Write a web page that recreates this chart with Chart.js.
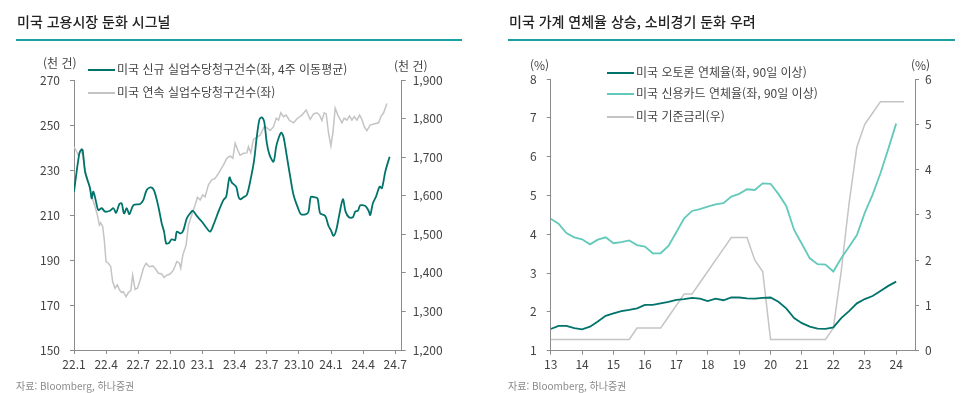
<!DOCTYPE html>
<html lang="ko">
<head>
<meta charset="utf-8">
<script src="https://cdn.jsdelivr.net/npm/chart.js@4.4.1/dist/chart.umd.min.js"></script>
<style>
  body { margin: 0; background: #fff; font-family: "Noto Sans CJK KR", "Noto Sans", sans-serif; }
  #wrap { position: relative; width: 964px; height: 393px; overflow: hidden; }
  canvas { position: absolute; top: 0; }
  .title { position: absolute; top: 12px; font-size: 14px; line-height: 18px; font-weight: 500; color: #222; white-space: nowrap; }
  .rule { position: absolute; top: 39px; height: 1.5px; background: #1aa0a0; }
  .txt { position: absolute; white-space: nowrap; font-size: 12px; line-height: 14px; color: #444; }
  .src { position: absolute; white-space: nowrap; font-size: 10px; line-height: 12px; color: #8a8a8a; top: 380px; }
  .sw { display: inline-block; width: 27px; height: 2px; vertical-align: middle; margin-right: 2px; position: relative; top: -1px; }
</style>
</head>
<body>
<div id="wrap">
  <canvas id="jobs" width="482" height="393" style="left:0"></canvas>
  <canvas id="debt" width="482" height="393" style="left:482px"></canvas>

  <div class="title" style="left:17px">미국 고용시장 둔화 시그널</div>
  <div class="rule" style="left:16px; width:446px"></div>
  <div class="title" style="left:509px">미국 가계 연체율 상승, 소비경기 둔화 우려</div>
  <div class="rule" style="left:508px; width:447px"></div>

  <div class="txt" style="left:43px; top:56px">(천 건)</div>
  <div class="txt" style="left:394px; top:59px">(천 건)</div>
  <div class="txt" style="left:88px; top:62px"><span class="sw" style="background:#00736a"></span>미국 신규 실업수당청구건수(좌, 4주 이동평균)</div>
  <div class="txt" style="left:88px; top:85px"><span class="sw" style="background:#c4c4c4"></span>미국 연속 실업수당청구건수(좌)</div>

  <div class="txt" style="left:530px; top:58px">(%)</div>
  <div class="txt" style="left:911px; top:58px">(%)</div>
  <div class="txt" style="left:607px; top:65px"><span class="sw" style="background:#00736a"></span>미국 오토론 연체율(좌, 90일 이상)</div>
  <div class="txt" style="left:607px; top:86px"><span class="sw" style="background:#62c9bb"></span>미국 신용카드 연체율(좌, 90일 이상)</div>
  <div class="txt" style="left:607px; top:109px"><span class="sw" style="background:#c4c4c4"></span>미국 기준금리(우)</div>

  <div class="src" style="left:16px">자료: Bloomberg, 하나증권</div>
  <div class="src" style="left:508px">자료: Bloomberg, 하나증권</div>
</div>
<script>
// 왼쪽: 실업수당청구건수 (x = 2022년 1월 기준 경과 개월)
const newX = [0,0.5,0.72,0.81,1.03,1.25,1.5,1.65,1.81,2.02,2.27,2.59,2.9,3.36,3.68,3.93,4.24,4.45,4.67,4.92,5.17,5.55,6.17,6.48,6.79,7.17,7.48,7.88,8.19,8.41,8.6,8.82,9.13,9.44,9.6,9.97,10.22,10.53,10.84,11.09,11.46,11.93,12.4,12.71,13.02,13.49,13.96,14.21,14.52,14.74,15.14,15.36,15.51,15.83,16.14,16.51,16.82,17.07,17.32,17.54,17.76,18.01,18.26,18.63,18.88,19.1,19.35,19.56,19.88,20.19,20.5,20.87,21.18,21.68,21.9,22.12,22.43,22.74,22.99,23.46,23.77,23.99,24.24,24.49,24.74,25.11,25.36,25.67,26.04,26.26,26.51,26.73,27.2,27.51,27.66,27.91,28.22,28.54,28.75,29.07,29.47];
const newClaims = [220.4,237.4,239.2,238.8,229.3,225.6,221.9,217.4,220.4,216.7,212.2,213,211.5,211.9,213,211,214.9,215.2,210.7,213,210.4,214.4,214.9,216.7,221.1,222.3,220.8,213.7,206.3,202.6,197.4,197.4,199.2,198.8,202.6,201.8,203.3,208.5,210.7,211.9,209.6,207.1,204.1,202.6,205.6,211.5,216.7,218.1,226.7,224.4,222.6,218.1,217,217.9,218.9,226.3,234.4,244.8,252.5,253.4,251.5,241.8,236.7,233.7,240.4,244.1,246.6,244.8,235.9,227,218.9,213.7,210.4,210.4,211.5,218.1,217.9,217.4,210.7,209.6,205.1,203.3,200.7,203.3,209.3,217,211.5,209,209,211.5,211.9,214.3,214,211.9,210,215.2,218.4,222.6,221.9,229.3,235.9];
const contX = [0,0.25,0.4,0.62,0.81,1.03,1.34,1.65,1.96,2.18,2.37,2.49,2.68,2.83,2.99,3.21,3.43,3.61,3.83,4.05,4.24,4.45,4.61,4.86,5.08,5.3,5.48,5.7,5.92,6.17,6.48,6.73,7.04,7.35,7.57,7.88,8.19,8.41,8.66,8.97,9.28,9.6,9.84,9.97,10.16,10.47,10.69,11,11.31,11.53,11.78,12.02,12.24,12.55,12.87,13.18,13.58,13.96,14.27,14.58,14.83,15.05,15.3,15.51,15.83,16.14,16.29,16.51,16.76,17.07,17.38,17.76,18.07,18.32,18.63,18.88,19.1,19.31,19.56,19.81,20.12,20.5,20.87,21.28,21.68,22.06,22.37,22.68,22.93,23.15,23.36,23.55,23.77,23.99,24.17,24.39,24.64,25.02,25.23,25.48,25.73,25.95,26.17,26.42,26.67,26.88,27.1,27.35,27.66,27.98,28.44,28.66,28.91,29.22];
const contClaims = [1727,1714,1705,1718,1705,1667,1636,1598,1572,1550,1524,1530,1520,1485,1429,1425,1416,1377,1360,1369,1356,1349,1351,1338,1349,1354,1394,1357,1360,1381,1412,1425,1416,1418,1412,1399,1397,1388,1394,1397,1407,1429,1425,1412,1446,1472,1524,1550,1576,1596,1589,1602,1597,1628,1641,1645,1662,1680,1697,1703,1697,1736,1718,1705,1710,1711,1727,1711,1746,1751,1757,1779,1775,1769,1779,1801,1796,1815,1805,1809,1795,1789,1801,1809,1822,1798,1812,1815,1809,1795,1815,1812,1762,1729,1762,1827,1809,1789,1801,1796,1807,1796,1805,1796,1809,1798,1779,1769,1783,1786,1789,1805,1815,1839];
const jobsTicks = ['22.1','22.4','22.7','22.10','23.1','23.4','23.7','23.10','24.1','24.4','24.7'];

// 오른쪽: 분기별 연체율과 기준금리 (2013년 1분기부터)
const firstYear = 13;
const autoLoan = [1.56,1.64,1.64,1.58,1.55,1.62,1.75,1.90,1.96,2.02,2.05,2.09,2.18,2.18,2.22,2.26,2.31,2.33,2.36,2.34,2.28,2.34,2.30,2.37,2.37,2.35,2.34,2.36,2.37,2.26,2.09,1.84,1.71,1.62,1.57,1.56,1.60,1.84,2.02,2.22,2.33,2.41,2.54,2.67,2.78];
const creditCard = [4.40,4.27,4.03,3.92,3.87,3.74,3.86,3.92,3.77,3.80,3.84,3.72,3.68,3.51,3.51,3.70,4.05,4.41,4.60,4.65,4.71,4.77,4.80,4.97,5.04,5.16,5.14,5.31,5.30,5.04,4.73,4.11,3.75,3.38,3.23,3.22,3.04,3.38,3.68,3.98,4.55,5.02,5.57,6.20,6.85];
const fedRate = [0.25,0.25,0.25,0.25,0.25,0.25,0.25,0.25,0.25,0.25,0.25,0.5,0.5,0.5,0.5,0.75,1.0,1.25,1.25,1.5,1.75,2.0,2.25,2.5,2.5,2.5,2.0,1.75,0.25,0.25,0.25,0.25,0.25,0.25,0.25,0.25,0.5,1.75,3.25,4.5,5.0,5.25,5.5,5.5,5.5,5.5];

const DARK = '#00736a', LIGHT = '#62c9bb', GREY = '#c4c4c4', AXIS = '#8c8c8c';
const tickFont = { family: 'Noto Sans CJK KR', size: 12 };

const pts = (xs, ys) => ys.map((y, i) => ({ x: xs[i], y }));
const quarterX = arr => arr.map((_, i) => firstYear + i / 4);

function yAxis(pos, min, max, step, width, pad, fmt) {
  return {
    type: 'linear', position: pos, min, max,
    border: { color: AXIS },
    grid: { drawOnChartArea: false, color: AXIS, tickLength: 4 },
    ticks: { stepSize: step, color: '#444', font: tickFont, padding: pad, includeBounds: false, callback: fmt },
    afterFit: s => { s.width = width; }
  };
}
function xAxis(min, max, step, height, fmt) {
  return {
    type: 'linear', min, max,
    border: { color: AXIS },
    grid: { drawOnChartArea: false, color: AXIS, tickLength: 4 },
    ticks: { stepSize: step, color: '#444', font: tickFont, padding: 3, includeBounds: false, maxRotation: 0, autoSkip: false, callback: fmt },
    afterFit: s => { s.height = height; }
  };
}
const line = (label, data, color, axis, width, tension) => ({
  label, data, borderColor: color, borderWidth: width, yAxisID: axis,
  pointRadius: 0, tension, fill: false
});
const common = {
  responsive: false, animation: false,
  plugins: { legend: { display: false }, tooltip: { enabled: false } }
};

new Chart(document.getElementById('jobs'), {
  type: 'line',
  data: {
    datasets: [
      line('미국 신규 실업수당청구건수(좌, 4주 이동평균)', pts(newX, newClaims), DARK, 'y', 1.8, 0.3),
      line('미국 연속 실업수당청구건수(좌)', pts(contX, contClaims), GREY, 'y1', 1.5, 0)
    ]
  },
  options: {
    ...common,
    layout: { padding: { top: 80 } },
    scales: {
      x: xAxis(0, 30.6, 3, 43, v => jobsTicks[v / 3]),
      y: yAxis('left', 150, 270, 20, 74, 10),
      y1: yAxis('right', 1200, 1900, 100, 80.3, 7, v => v.toLocaleString('en-US'))
    }
  }
});

new Chart(document.getElementById('debt'), {
  type: 'line',
  data: {
    datasets: [
      line('미국 오토론 연체율(좌, 90일 이상)', pts(quarterX(autoLoan), autoLoan), DARK, 'y', 1.8, 0),
      line('미국 신용카드 연체율(좌, 90일 이상)', pts(quarterX(creditCard), creditCard), LIGHT, 'y', 1.8, 0),
      line('미국 기준금리(우)', pts(quarterX(fedRate), fedRate), GREY, 'y1', 1.5, 0)
    ]
  },
  options: {
    ...common,
    layout: { padding: { top: 79 } },
    scales: {
      x: xAxis(13, 24.6, 1, 42.3, v => v),
      y: yAxis('left', 1, 8, 1, 68.7, 10),
      y1: yAxis('right', 0, 6, 1, 49, 6)
    }
  }
});
</script>
</body>
</html>
